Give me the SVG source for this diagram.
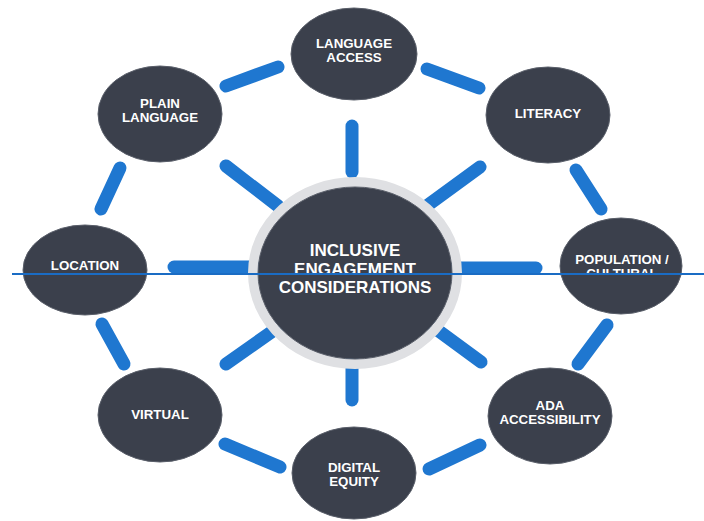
<svg xmlns="http://www.w3.org/2000/svg" width="704" height="521" viewBox="0 0 704 521">
<defs>
<style>
.node{fill:#3b404c;stroke:#5a5f6a;stroke-width:1}
.lbl{fill:#ffffff;font-family:"Liberation Sans",Arial,sans-serif;font-weight:bold;font-size:13.3px;text-anchor:middle}
.big{font-size:17px}
.spoke{stroke:#1f77d0;stroke-width:13;stroke-linecap:round;fill:none}
</style>
<clipPath id="cut"><rect x="0" y="0" width="704" height="274"/></clipPath>
</defs>
<rect width="704" height="521" fill="#ffffff"/>
<g id="connectors">
<line class="spoke" x1="352" y1="126" x2="352" y2="172"/>
<line class="spoke" x1="352" y1="352" x2="352" y2="400"/>
<line class="spoke" x1="174" y1="267" x2="255" y2="267"/>
<line class="spoke" x1="455" y1="268" x2="536" y2="268"/>
<line class="spoke" x1="226" y1="166" x2="278" y2="206"/>
<line class="spoke" x1="480" y1="167" x2="428" y2="205"/>
<line class="spoke" x1="226" y1="364" x2="280" y2="326"/>
<line class="spoke" x1="432" y1="326" x2="481" y2="362"/>
<line class="spoke" x1="226" y1="86" x2="278" y2="67"/>
<line class="spoke" x1="427" y1="69" x2="479" y2="88"/>
<line class="spoke" x1="120" y1="168" x2="101" y2="209"/>
<line class="spoke" x1="576" y1="170" x2="601" y2="209"/>
<line class="spoke" x1="102" y1="324" x2="124" y2="364"/>
<line class="spoke" x1="607" y1="325" x2="578" y2="364"/>
<line class="spoke" x1="225" y1="444" x2="280" y2="467"/>
<line class="spoke" x1="480" y1="445" x2="429" y2="469"/>
</g>
<g id="center">
<ellipse cx="355" cy="273" rx="102" ry="91" fill="none" stroke="#dfe0e3" stroke-width="10"/>
<ellipse class="node" cx="355" cy="273" rx="97" ry="86"/>
<text class="lbl big" x="355" y="256">INCLUSIVE</text>
<text class="lbl big" x="355" y="275" clip-path="url(#cut)">ENGAGEMENT</text>
<text class="lbl big" x="355" y="293">CONSIDERATIONS</text>
</g>
<g id="language-access">
<ellipse class="node" cx="354" cy="54" rx="63" ry="46"/>
<text class="lbl" x="354" y="48">LANGUAGE</text>
<text class="lbl" x="354" y="62">ACCESS</text>
</g>
<g id="plain-language">
<ellipse class="node" cx="160" cy="114" rx="62" ry="48"/>
<text class="lbl" x="160" y="108">PLAIN</text>
<text class="lbl" x="160" y="122">LANGUAGE</text>
</g>
<g id="literacy">
<ellipse class="node" cx="548" cy="115" rx="62" ry="48"/>
<text class="lbl" x="548" y="118">LITERACY</text>
</g>
<g id="location">
<ellipse class="node" cx="85" cy="270" rx="62" ry="45"/>
<text class="lbl" x="85" y="270">LOCATION</text>
</g>
<g id="population-cultural">
<ellipse class="node" cx="621" cy="266" rx="61" ry="48"/>
<text class="lbl" x="622" y="264">POPULATION /</text>
<text class="lbl" x="622" y="278" clip-path="url(#cut)">CULTURAL</text>
</g>
<g id="virtual">
<ellipse class="node" cx="160" cy="415" rx="62" ry="47"/>
<text class="lbl" x="160" y="419">VIRTUAL</text>
</g>
<g id="ada-accessibility">
<ellipse class="node" cx="550" cy="416" rx="62" ry="48"/>
<text class="lbl" x="550" y="410">ADA</text>
<text class="lbl" x="550" y="424">ACCESSIBILITY</text>
</g>
<g id="digital-equity">
<ellipse class="node" cx="354" cy="473" rx="62" ry="46"/>
<text class="lbl" x="354" y="472">DIGITAL</text>
<text class="lbl" x="354" y="486">EQUITY</text>
</g>
<line x1="12" y1="274" x2="704" y2="274" stroke="#1a6cc4" stroke-width="1.8"/>
</svg>
